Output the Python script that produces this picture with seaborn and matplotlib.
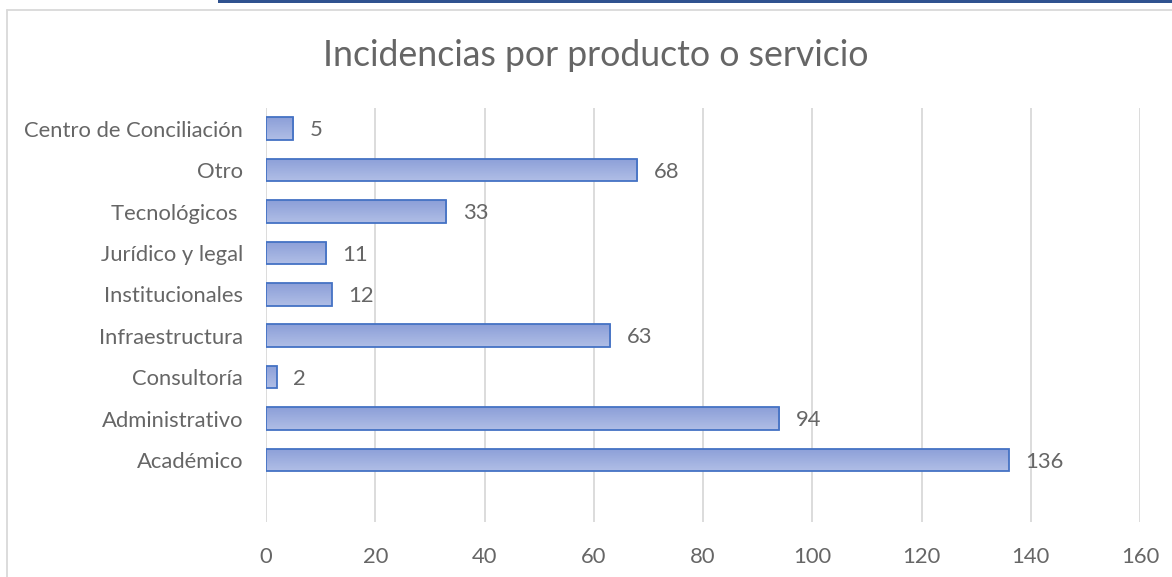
import numpy as np
import pandas as pd
import seaborn as sns
import matplotlib.pyplot as plt
from matplotlib.colors import LinearSegmentedColormap
from matplotlib.lines import Line2D
from matplotlib.patches import Rectangle

categories = ["Centro de Conciliación", "Otro", "Tecnológicos ", "Jurídico y legal",
              "Institucionales", "Infraestructura", "Consultoría", "Administrativo", "Académico"]
values = [5, 68, 33, 11, 12, 63, 2, 94, 136]
x_ticks = [0, 20, 40, 60, 80, 100, 120, 140, 160]

sns.set_theme(style="white")
plt.rcParams['font.family'] = ['Lato', 'DejaVu Sans']

df = pd.DataFrame({"cat": categories, "val": values})

fig = plt.figure(figsize=(11.72, 5.77), dpi=100)
ax = fig.add_axes([266 / 1172, 1 - 522 / 577, (1140 - 266) / 1172, (522 - 108) / 577])

sns.barplot(data=df, x="val", y="cat", order=categories, orient="h", width=0.55,
            color="#9aaddf", edgecolor="#4472c4", linewidth=1.3, ax=ax, zorder=3)

# gradient fill for each bar, like the excel default
grad = LinearSegmentedColormap.from_list("g", ["#8c9fd8", "#b0bee6"])
for p in ax.patches:
    x0, y0 = p.get_x(), p.get_y()
    w, h = p.get_width(), p.get_height()
    im = ax.imshow(np.linspace(0, 1, 50).reshape(-1, 1), cmap=grad, aspect="auto",
                   extent=(x0, x0 + w, y0 + h, y0), zorder=2.5, interpolation="bilinear")
    im.set_clip_path(p)
    p.set_facecolor("none")

for i, v in enumerate(values):
    ax.text(v + 3, i + 0.04, str(v), va="center", ha="left", fontsize=15.8, color="#666666")

ax.set_xlim(0, 160)
ax.set_ylim(9.5, -0.5)
ax.set_xticks(x_ticks)
ax.grid(axis="x", color="#d9d9d9", linewidth=1.3, zorder=0)
for s in ax.spines.values():
    s.set_visible(False)
ax.tick_params(axis="both", length=0, labelsize=15.8, labelcolor="#666666")
ax.tick_params(axis="x", pad=18)
ax.tick_params(axis="y", pad=16.5)
ax.set_xlabel("")
ax.set_ylabel("")

fig.text(596 / 1172, 1 - 55 / 577, "Incidencias por producto o servicio", ha="center", va="center",
         fontsize=25.7, color="#666666")

# chart border and the blue strip on top
fig.add_artist(Line2D([7 / 1172, 7 / 1172], [0, 1 - 10 / 577], color="#d9d9d9", lw=1.3))
fig.add_artist(Line2D([7 / 1172, 1], [1 - 10 / 577, 1 - 10 / 577], color="#d9d9d9", lw=1.3))
fig.add_artist(Rectangle((218 / 1172, 1 - 3 / 577), (1172 - 218) / 1172, 3 / 577,
                         transform=fig.transFigure, color="#2f528f", lw=0))

fig.savefig("out.png", dpi=100)
